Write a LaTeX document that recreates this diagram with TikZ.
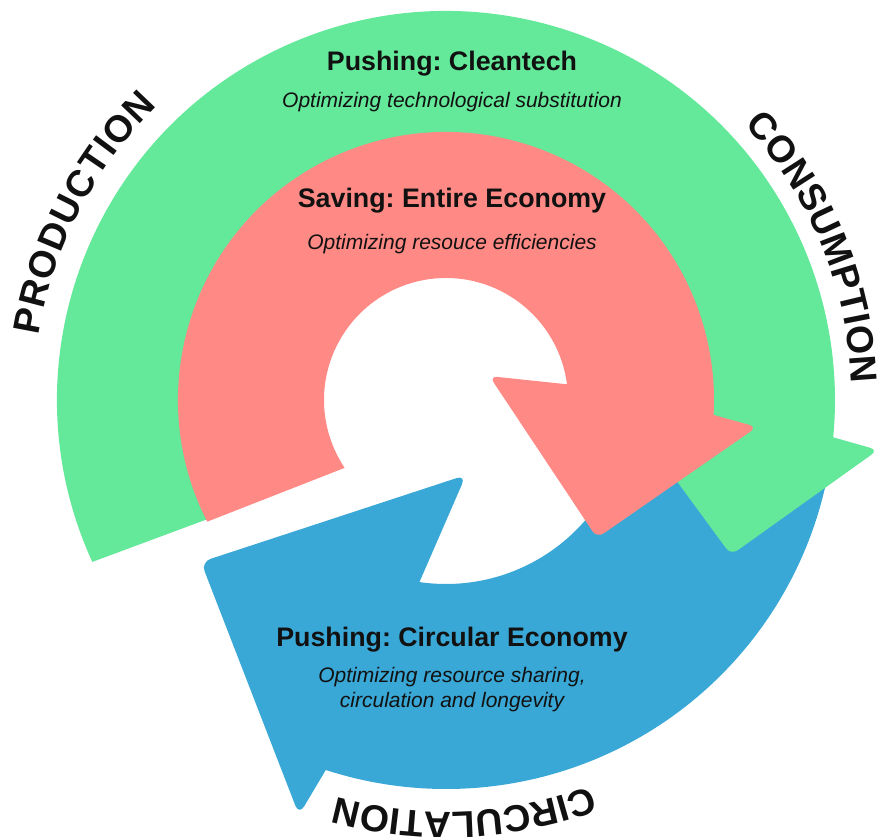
\documentclass[tikz,border=0pt]{standalone}
\usepackage{fontspec}
\setmainfont{Liberation Sans}
\usetikzlibrary{decorations.text}
\definecolor{greenc}{RGB}{100,232,154}
\definecolor{redc}{RGB}{255,138,133}
\definecolor{bluec}{RGB}{58,168,214}
\definecolor{ink}{RGB}{17,17,17}
\newcommand\curvefont{\fontsize{37.5}{40}\selectfont\bfseries}
\frenchspacing
\begin{document}
\begin{tikzpicture}[x=1pt,y=1pt,
  titletext/.style={font=\fontsize{26.8}{30}\selectfont\bfseries, text=ink, anchor=base, inner sep=0pt},
  subtext/.style={font=\fontsize{21}{24}\selectfont\itshape, text=ink, anchor=base, inner sep=0pt},
  curved/.style={decorate, decoration={text along path, text align=fit to path, text color=ink}}]
\path[use as bounding box] (0,0) rectangle (877,836);
\begin{scope}[shift={(446,436)}]
  % blue arrow (circulation)
  \fill[bluec] (261.7:184) arc[start angle=261.7, end angle=335, radius=184pt]
     -- (351:389) arc[start angle=351, end angle=252, radius=389pt]
     [rounded corners=10pt] -- (-147,-415) -- (-245,-162) -- (20,-75) [sharp corners] -- cycle;
  % green arrow (cleantech)
  \fill[greenc] (204.6:389) arc[start angle=204.6, end angle=-5.5, radius=389pt]
     [rounded corners=8pt] -- (432,-50) -- (285,-155) -- (150.8,27.9)
     [sharp corners] -- (4.1:200) arc[start angle=4.1, end angle=208.6, radius=200pt] -- cycle;
  % red arrow (saving)
  \fill[redc] (213.8:122) -- (207:268) arc[start angle=207, end angle=-3.2, radius=268pt]
     [rounded corners=8pt] -- (311,-27) -- (151,-138) -- (43.4,23.9)
     [sharp corners] -- (7.4:122) arc[start angle=7.4, end angle=213.8, radius=122pt] -- cycle;
  % curved labels
  \path[curved, decoration={text={|\curvefont|PRODUCTION}}]
     (171:412) arc[start angle=171, end angle=134.4, radius=412pt];
  \path[curved, decoration={text={|\curvefont|CONSUMPTION}}]
     (42.7:406) arc[start angle=42.7, end angle=2.3, radius=406pt];
  \path[curved, decoration={text={|\curvefont|CIRCULATION}}]
     (290.5:412) arc[start angle=290.5, end angle=254.7, radius=412pt];
\end{scope}
\node[titletext] (t1) at (452,765) {Pushing: Cleantech};
\node[subtext] (s1) at (452,728) {Optimizing technological substitution};
\node[titletext] (t2) at (452,628) {Saving: Entire Economy};
\node[subtext] (s2) at (452,586) {Optimizing resouce efficiencies};
\node[titletext] (t3) at (452,190) {Pushing: Circular Economy};
\node[subtext] (s3) at (452,153.5) {Optimizing resource sharing,};
\node[subtext] (s4) at (452,129) {circulation and longevity};
\end{tikzpicture}
\end{document}
